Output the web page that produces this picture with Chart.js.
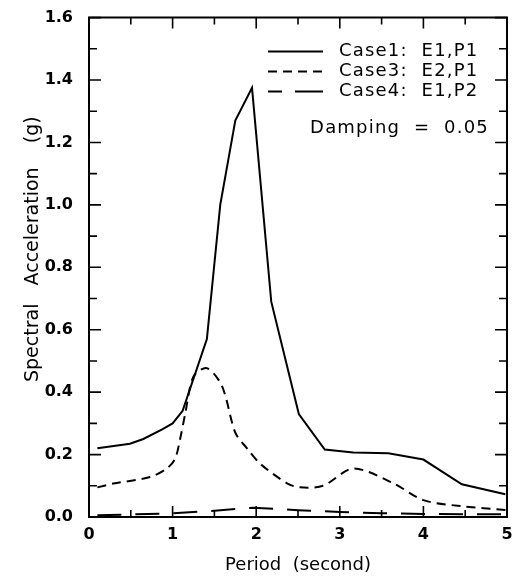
<!DOCTYPE html>
<html>
<head>
<meta charset="utf-8">
<script src="https://cdn.jsdelivr.net/npm/chart.js@4.4.1/dist/chart.umd.min.js"></script>
<style>
  html, body { margin: 0; padding: 0; background: #fff; }
  #wrap { width: 516px; height: 580px; }
</style>
</head>
<body>
<div id="wrap"><canvas id="spectrumChart" width="516" height="580"></canvas></div>
<script>
// values (period in s, acceleration in g)
const case1Periods = [0.1, 0.49, 0.65, 0.87, 1.0, 1.12, 1.41, 1.57, 1.75, 1.95, 2.18, 2.51, 2.82, 3.16, 3.58, 4.0, 4.46, 4.98];
const case1Values  = [0.22, 0.235, 0.25, 0.28, 0.30, 0.34, 0.57, 1.0, 1.27, 1.375, 0.69, 0.33, 0.216, 0.207, 0.204, 0.184, 0.105, 0.073];

const case3Periods = [0.1, 0.29, 0.73, 0.93, 1.03, 1.09, 1.15, 1.25, 1.41, 1.59, 1.75, 1.89, 2.05, 2.37, 2.52, 2.8, 3.16, 3.64, 4.0, 4.44, 5.0];
const case3Values  = [0.095, 0.107, 0.128, 0.155, 0.187, 0.25, 0.33, 0.45, 0.477, 0.42, 0.27, 0.22, 0.17, 0.108, 0.095, 0.10, 0.155, 0.108, 0.054, 0.035, 0.022];

const case4Periods = [0.1, 0.5, 1.0, 1.5, 1.96, 2.5, 3.0, 3.5, 4.0, 4.5, 5.0];
const case4Values  = [0.006, 0.008, 0.012, 0.02, 0.03, 0.022, 0.016, 0.012, 0.01, 0.009, 0.009];

const seriesNames = ['Case1:  E1,P1', 'Case3:  E2,P1', 'Case4:  E1,P2'];
const yTicks = [0.0, 0.2, 0.4, 0.6, 0.8, 1.0, 1.2, 1.4, 1.6];
const xTicks = [0, 1, 2, 3, 4, 5];
const dampingNote = 'Damping  =  0.05';

function toPoints(xs, ys) {
    return xs.map((x, i) => ({ x: x, y: ys[i] }));
}

const TEXT_FONT = '"DejaVu Sans", Verdana, sans-serif';

// inward ticks on all four sides, plus the frame
const frameTicks = {
    id: 'frameTicks',
    afterDraw(chart) {
        const ctx = chart.ctx;
        const area = chart.chartArea;
        const xs = chart.scales.x;
        const ys = chart.scales.y;
        ctx.save();
        ctx.strokeStyle = '#000';
        ctx.lineWidth = 2;
        ctx.beginPath();
        ctx.rect(area.left, area.top, area.right - area.left, area.bottom - area.top);
        ctx.stroke();
        ctx.lineWidth = 1.6;
        ctx.beginPath();
        for (let v = 0; v <= 5.0001; v += 0.5) {
            const px = xs.getPixelForValue(v);
            const len = Math.abs(v - Math.round(v)) < 0.01 ? 11 : 7;
            ctx.moveTo(px, area.bottom); ctx.lineTo(px, area.bottom - len);
            ctx.moveTo(px, area.top); ctx.lineTo(px, area.top + len);
        }
        for (let i = 0; i <= 16; i++) {
            const py = ys.getPixelForValue(i / 10);
            const len = i % 2 === 0 ? 12 : 8;
            ctx.moveTo(area.left, py); ctx.lineTo(area.left + len, py);
            ctx.moveTo(area.right, py); ctx.lineTo(area.right - len, py);
        }
        ctx.stroke();
        ctx.restore();
    }
};

// legend and damping note inside the plot, upper right
const innerLegend = {
    id: 'innerLegend',
    afterDraw(chart) {
        const ctx = chart.ctx;
        const area = chart.chartArea;
        ctx.save();
        ctx.font = '18px ' + TEXT_FONT;
        ctx.letterSpacing = '1.2px';
        ctx.fillStyle = '#000';
        ctx.textBaseline = 'middle';
        const lineX0 = area.left + 179;
        const lineX1 = area.left + 234;
        const textX = area.left + 250;
        chart.data.datasets.forEach((ds, i) => {
            const y = area.top + 34 + i * 20;
            ctx.strokeStyle = ds.borderColor;
            ctx.lineWidth = 2;
            ctx.setLineDash(ds.legendDash || []);
            ctx.beginPath();
            ctx.moveTo(lineX0, y); ctx.lineTo(lineX1, y);
            ctx.stroke();
            ctx.setLineDash([]);
            ctx.fillText(ds.label, textX, y);
        });
        ctx.textAlign = 'right';
        ctx.fillText(dampingNote, area.right - 18, area.top + 111);
        ctx.restore();
    }
};

const ctx = document.getElementById('spectrumChart').getContext('2d');
new Chart(ctx, {
    type: 'line',
    data: {
        datasets: [
            {
                label: seriesNames[0],
                data: toPoints(case1Periods, case1Values),
                borderColor: '#000',
                borderWidth: 2,
                pointRadius: 0,
                tension: 0
            },
            {
                label: seriesNames[1],
                data: toPoints(case3Periods, case3Values),
                borderColor: '#000',
                borderWidth: 2,
                borderDash: [9, 6],
                legendDash: [9, 6],
                pointRadius: 0,
                tension: 0.3
            },
            {
                label: seriesNames[2],
                data: toPoints(case4Periods, case4Values),
                borderColor: '#000',
                borderWidth: 2,
                borderDash: [24, 14],
                legendDash: [14, 13, 28, 0],
                pointRadius: 0,
                tension: 0
            }
        ]
    },
    options: {
        responsive: false,
        animation: false,
        layout: { padding: { left: 0, top: 4, right: 9, bottom: 0 } },
        plugins: {
            legend: { display: false },
            tooltip: { enabled: false }
        },
        scales: {
            x: {
                type: 'linear',
                min: 0,
                max: 5,
                grid: { display: false },
                border: { display: false },
                afterBuildTicks: (axis) => { axis.ticks = xTicks.map(v => ({ value: v })); },
                afterFit: (axis) => { axis.height = 63; },
                ticks: {
                    color: '#000',
                    padding: 0,
                    font: { family: TEXT_FONT, size: 16, weight: 'bold' },
                    callback: (v) => String(v)
                },
                title: {
                    display: true,
                    text: 'Period  (second)',
                    color: '#000',
                    font: { family: TEXT_FONT, size: 18 }
                }
            },
            y: {
                type: 'linear',
                min: 0,
                max: 1.6,
                grid: { display: false },
                border: { display: false },
                afterBuildTicks: (axis) => { axis.ticks = yTicks.map(v => ({ value: v })); },
                afterFit: (axis) => { axis.width = 89; },
                ticks: {
                    color: '#000',
                    padding: 8,
                    font: { family: TEXT_FONT, size: 16, weight: 'bold' },
                    callback: (v) => v.toFixed(1)
                },
                title: {
                    display: true,
                    text: '      Spectral   Acceleration    (g)',
                    color: '#000',
                    padding: { top: 22, bottom: 4 },
                    font: { family: TEXT_FONT, size: 19 }
                }
            }
        }
    },
    plugins: [frameTicks, innerLegend]
});
</script>
</body>
</html>
